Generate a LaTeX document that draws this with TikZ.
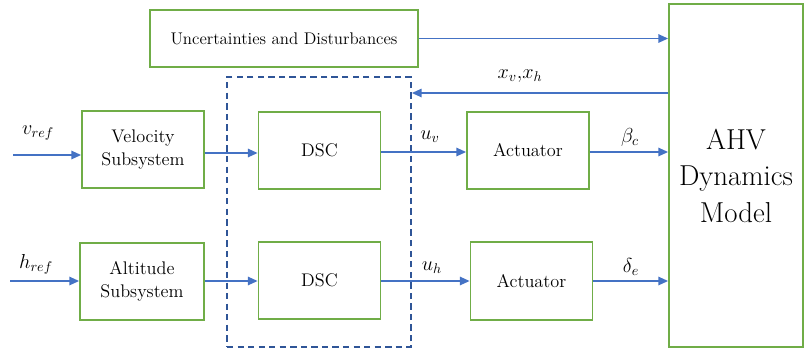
\documentclass[tikz,border=0pt]{standalone}
\usetikzlibrary{arrows.meta,positioning}
\definecolor{boxgreen}{RGB}{112,173,71}
\definecolor{sigblue}{RGB}{68,114,196}
\definecolor{dashblue}{RGB}{47,85,151}
\tikzset{
  block/.style={draw=boxgreen, line width=1.2pt, minimum width=3.05cm, minimum height=1.925cm,
    align=center, inner sep=0pt, font=\fontsize{13}{16}\selectfont},
  sig/.style={sigblue, line width=1.2pt, -{Triangle[length=7pt,width=6pt]}},
  siglabel/.style={font=\fontsize{14}{16}\selectfont},
}
\begin{document}
\begin{tikzpicture}[x=0.025cm, y=-0.025cm]
\useasboundingbox (0,0) rectangle (805,351);

% blocks
\node[block, minimum width=6.7cm, minimum height=1.425cm, font=\fontsize{12}{14}\selectfont] (unc) at (284,38.5) {Uncertainties and Disturbances};
\node[block, minimum width=3.35cm, minimum height=8.575cm, font=\fontsize{20.5}{26}\selectfont] (ahv) at (736,175.5) {AHV\\Dynamics\\Model};
\node[draw=dashblue, line width=1.2pt, dash pattern=on 4.5pt off 3pt, minimum width=4.6cm, minimum height=6.75cm] (ctrl) at (319,212) {};

\node[block] (vel) at (143,149.5) {Velocity\\Subsystem};
\node[block, minimum width=3.1cm] (alt) at (142,281.5) {Altitude\\Subsystem};
\node[block] (dscv) at (319.5,150.5) {DSC};
\node[block] (dsch) at (319.5,280.5) {DSC};
\node[block] (actv) at (528,150.5) {Actuator};
\node[block, minimum height=1.95cm] (acth) at (531.5,281) {Actuator};

% inputs
\coordinate (vin) at (13,155);
\coordinate (hin) at (10,281);
\draw[sig] (vin) -- (vin -| vel.west);
\draw[sig] (hin) -- (hin -| alt.west);
\node[siglabel] at (38,133) {$v_{ref}$};
\node[siglabel] at (36,264) {$h_{ref}$};

% signal chain
\draw[sig] (vel.east |- 0,153) -- (dscv.west |- 0,153);
\draw[sig] (alt.east |- 0,281) -- (dsch.west |- 0,281);
\draw[sig] (dscv.east |- 0,152) -- (actv.west |- 0,152);
\draw[sig] (dsch.east |- 0,281) -- (acth.west |- 0,281);
\draw[sig] (actv.east |- 0,152) -- (ahv.west |- 0,152);
\draw[sig] (acth.east |- 0,281) -- (ahv.west |- 0,281);
\node[siglabel] at (430,137) {$u_v$};
\node[siglabel] at (432,268) {$u_h$};
\node[siglabel] at (630,137) {$\beta_c$};
\node[siglabel] at (631,267) {$\delta_e$};

% disturbance and feedback
\draw[sig] (unc.east) -- (unc.east -| ahv.west);
\draw[sig] (ahv.west |- 0,93) -- (ctrl.east |- 0,93);
\node[siglabel] at (520,76) {$x_v{,}x_h$};
\end{tikzpicture}
\end{document}
